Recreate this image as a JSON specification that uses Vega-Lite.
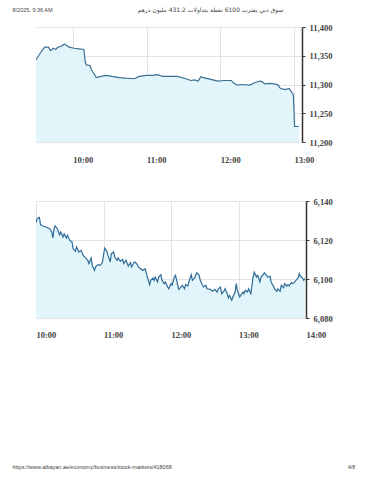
{
  "$schema": "https://vega.github.io/schema/vega-lite/v6.json",
  "padding": {"left": 12, "top": 6, "right": 0, "bottom": 0},
  "background": "white",
  "config": {"view": {"stroke": null}, "font": "Liberation Serif"},
  "spacing": 33,
  "vconcat": [
    {
      "width": 266,
      "height": 115,
      "data": {"values": [
        {"m":570,"v":11343},{"m":573,"v":11353},{"m":577,"v":11365},{"m":580,"v":11365},{"m":582,"v":11359},{"m":584,"v":11363},{"m":586,"v":11361},{"m":588,"v":11365},{"m":590,"v":11366},{"m":593,"v":11370},{"m":595,"v":11368},{"m":597,"v":11365},{"m":601,"v":11363},{"m":605,"v":11362},{"m":609,"v":11361},{"m":610,"v":11340},{"m":611,"v":11334},{"m":614,"v":11333},{"m":615,"v":11326},{"m":618,"v":11316},{"m":619,"v":11312},{"m":623,"v":11314},{"m":627,"v":11316},{"m":632,"v":11314},{"m":638,"v":11312},{"m":643,"v":11311},{"m":650,"v":11310},{"m":654,"v":11314},{"m":660,"v":11316},{"m":665,"v":11316},{"m":669,"v":11317},{"m":673,"v":11314},{"m":679,"v":11314},{"m":685,"v":11314},{"m":692,"v":11310},{"m":696,"v":11307},{"m":699,"v":11308},{"m":702,"v":11306},{"m":704,"v":11313},{"m":708,"v":11311},{"m":714,"v":11308},{"m":718,"v":11306},{"m":723,"v":11307},{"m":729,"v":11307},{"m":731,"v":11302},{"m":734,"v":11299},{"m":738,"v":11300},{"m":744,"v":11299},{"m":748,"v":11303},{"m":752,"v":11306},{"m":754,"v":11305},{"m":756,"v":11301},{"m":760,"v":11302},{"m":764,"v":11301},{"m":767,"v":11299},{"m":769,"v":11293},{"m":773,"v":11291},{"m":776,"v":11293},{"m":778,"v":11287},{"m":779.5,"v":11282},{"m":780.5,"v":11227},{"m":784,"v":11227}
      ]},
      "encoding": {
        "x": {"field": "m", "type": "quantitative",
          "scale": {"domain": [570, 786.5], "nice": false, "zero": false},
          "axis": {"values": [600, 660, 720, 780], "labelExpr": "floor(datum.value/60) + ':00'",
            "grid": true, "gridColor": "#e3e3e3", "domain": false, "ticks": false,
            "labelAlign": "left", "labelPadding": 13, "labelFont": "Liberation Serif", "labelFontSize": 8.5, "labelFontWeight": "bold", "labelColor": "#444",
            "title": "8/2025, 9:36 AM", "titleFont": "Liberation Sans", "titleFontSize": 5.5, "titleFontWeight": "normal", "titleColor": "#444",
            "titleAlign": "left", "titleAnchor": "start", "titleX": -24, "titleY": -131, "titleBaseline": "alphabetic"}},
        "y": {"field": "v", "type": "quantitative",
          "scale": {"domain": [11200, 11400], "nice": false, "zero": false},
          "axis": {"orient": "right", "values": [11200, 11250, 11300, 11350, 11400], "labelExpr": "format(datum.value, ',.0f')",
            "grid": true, "gridColor": "#e3e3e3", "domainColor": "#333", "domainWidth": 1.5, "tickColor": "#333", "tickSize": 3, "tickWidth": 1,
            "labelPadding": 4, "labelFont": "Liberation Serif", "labelFontSize": 8.5, "labelFontWeight": "bold", "labelColor": "#444",
            "title": "سوق دبي يقترب 6100 نقطة بتداولات 431.2 مليون درهم", "titleFont": "DejaVu Sans", "titleFontSize": 6, "titleFontWeight": "normal", "titleColor": "#444",
            "titleAngle": 0, "titleAlign": "center", "titleX": -92, "titleY": -16, "titleBaseline": "alphabetic"}}
      },
      "layer": [
        {"mark": {"type": "area", "color": "#e2f5fa", "clip": true}},
        {"mark": {"type": "line", "color": "#3a6f93", "strokeWidth": 1.2, "clip": true}}
      ]
    },
    {
      "width": 270,
      "height": 117,
      "data": {"values": [
        {"m":600,"v":6128.9},{"m":601,"v":6130.9},{"m":603,"v":6131.6},{"m":604,"v":6127.9},{"m":606,"v":6127.2},{"m":609,"v":6126.7},{"m":612,"v":6125.8},{"m":614,"v":6124.1},{"m":615,"v":6121.0},{"m":616,"v":6125.8},{"m":617,"v":6127.2},{"m":619,"v":6125.8},{"m":621,"v":6122.7},{"m":622,"v":6124.1},{"m":624,"v":6121.5},{"m":625,"v":6123.2},{"m":627,"v":6121.0},{"m":628,"v":6122.4},{"m":630,"v":6119.8},{"m":632,"v":6119.0},{"m":633,"v":6115.6},{"m":635,"v":6114.2},{"m":636,"v":6116.4},{"m":638,"v":6113.8},{"m":640,"v":6114.7},{"m":642,"v":6112.1},{"m":644,"v":6110.8},{"m":646,"v":6109.6},{"m":647,"v":6107.9},{"m":649,"v":6110.8},{"m":650,"v":6107.0},{"m":652,"v":6104.4},{"m":653,"v":6106.2},{"m":655,"v":6107.4},{"m":657,"v":6107.0},{"m":659,"v":6108.4},{"m":660,"v":6112.1},{"m":661,"v":6115.9},{"m":663,"v":6114.2},{"m":664,"v":6112.1},{"m":666,"v":6108.7},{"m":667,"v":6113.0},{"m":669,"v":6113.8},{"m":670,"v":6111.3},{"m":672,"v":6109.6},{"m":673,"v":6110.8},{"m":675,"v":6109.1},{"m":677,"v":6110.1},{"m":678,"v":6107.9},{"m":680,"v":6109.6},{"m":682,"v":6106.7},{"m":684,"v":6108.4},{"m":685,"v":6106.2},{"m":687,"v":6108.4},{"m":688,"v":6108.7},{"m":690,"v":6107.4},{"m":691,"v":6106.2},{"m":693,"v":6105.3},{"m":695,"v":6104.4},{"m":697,"v":6105.3},{"m":699,"v":6101.0},{"m":701,"v":6097.1},{"m":702,"v":6099.3},{"m":704,"v":6100.5},{"m":705,"v":6099.3},{"m":706,"v":6101.0},{"m":708,"v":6098.5},{"m":709,"v":6101.0},{"m":711,"v":6102.2},{"m":712,"v":6099.3},{"m":714,"v":6097.6},{"m":715,"v":6098.5},{"m":717,"v":6095.9},{"m":718,"v":6095.0},{"m":720,"v":6097.6},{"m":721,"v":6096.8},{"m":723,"v":6101.0},{"m":724,"v":6101.9},{"m":726,"v":6096.8},{"m":727,"v":6094.7},{"m":729,"v":6095.9},{"m":730,"v":6096.8},{"m":732,"v":6095.0},{"m":733,"v":6097.1},{"m":735,"v":6096.5},{"m":736,"v":6098.8},{"m":738,"v":6102.2},{"m":739,"v":6099.3},{"m":741,"v":6100.5},{"m":742,"v":6102.2},{"m":743,"v":6103.2},{"m":745,"v":6101.9},{"m":746,"v":6099.3},{"m":748,"v":6096.8},{"m":749,"v":6095.9},{"m":751,"v":6096.8},{"m":752,"v":6095.0},{"m":755,"v":6094.7},{"m":757,"v":6093.7},{"m":759,"v":6094.7},{"m":761,"v":6093.3},{"m":762,"v":6095.0},{"m":764,"v":6095.9},{"m":765,"v":6092.5},{"m":767,"v":6093.7},{"m":768,"v":6095.0},{"m":770,"v":6092.5},{"m":771,"v":6090.3},{"m":772,"v":6091.6},{"m":774,"v":6089.1},{"m":775,"v":6090.8},{"m":777,"v":6093.3},{"m":778,"v":6097.6},{"m":779,"v":6094.2},{"m":781,"v":6090.8},{"m":782,"v":6091.6},{"m":784,"v":6093.3},{"m":785,"v":6092.5},{"m":786,"v":6094.2},{"m":788,"v":6093.3},{"m":789,"v":6095.0},{"m":791,"v":6092.5},{"m":792,"v":6096.8},{"m":793,"v":6101.0},{"m":794,"v":6103.5},{"m":796,"v":6101.0},{"m":797,"v":6101.9},{"m":799,"v":6098.5},{"m":800,"v":6101.0},{"m":802,"v":6102.2},{"m":803,"v":6103.2},{"m":805,"v":6101.9},{"m":806,"v":6101.0},{"m":808,"v":6101.4},{"m":809,"v":6098.5},{"m":811,"v":6096.4},{"m":812,"v":6095.0},{"m":814,"v":6093.7},{"m":815,"v":6095.0},{"m":817,"v":6093.7},{"m":818,"v":6096.8},{"m":820,"v":6095.5},{"m":821,"v":6097.6},{"m":823,"v":6096.4},{"m":824,"v":6097.1},{"m":825,"v":6096.5},{"m":827,"v":6098.1},{"m":828,"v":6097.6},{"m":830,"v":6098.5},{"m":831,"v":6099.3},{"m":833,"v":6100.5},{"m":834,"v":6102.7},{"m":835,"v":6101.5},{"m":837,"v":6100.5},{"m":838,"v":6099.3},{"m":839,"v":6100.2}
      ]},
      "encoding": {
        "x": {"field": "m", "type": "quantitative",
          "scale": {"domain": [600, 840], "nice": false, "zero": false},
          "axis": {"values": [600, 660, 720, 780, 840], "labelExpr": "floor(datum.value/60) + ':00'",
            "grid": true, "gridColor": "#e3e3e3", "domain": false, "ticks": false,
            "labelAlign": "left", "labelPadding": 12, "labelFont": "Liberation Serif", "labelFontSize": 8.5, "labelFontWeight": "bold", "labelColor": "#444",
            "title": "https://www.albayan.ae/economy/business/stock-markets/418068", "titleFont": "Liberation Sans", "titleFontSize": 5.5, "titleFontWeight": "normal", "titleColor": "#444",
            "titleAlign": "left", "titleAnchor": "start", "titleX": -24, "titleY": 150, "titleBaseline": "alphabetic"}},
        "y": {"field": "v", "type": "quantitative",
          "scale": {"domain": [6080, 6140], "nice": false, "zero": false},
          "axis": {"orient": "right", "values": [6080, 6100, 6120, 6140], "labelExpr": "format(datum.value, ',.0f')",
            "grid": true, "gridColor": "#e3e3e3", "domainColor": "#333", "domainWidth": 1.5, "tickColor": "#333", "tickSize": 3, "tickWidth": 1,
            "labelPadding": 4, "labelFont": "Liberation Serif", "labelFontSize": 8.5, "labelFontWeight": "bold", "labelColor": "#444",
            "title": "4/8", "titleFont": "Liberation Sans", "titleFontSize": 5.5, "titleFontWeight": "normal", "titleColor": "#444",
            "titleAngle": 0, "titleAlign": "center", "titleX": 45, "titleY": 267, "titleBaseline": "alphabetic"}}
      },
      "layer": [
        {"mark": {"type": "area", "color": "#e2f5fa", "clip": true}},
        {"mark": {"type": "line", "color": "#2f6c98", "strokeWidth": 1.2, "clip": true}}
      ]
    }
  ]
}
